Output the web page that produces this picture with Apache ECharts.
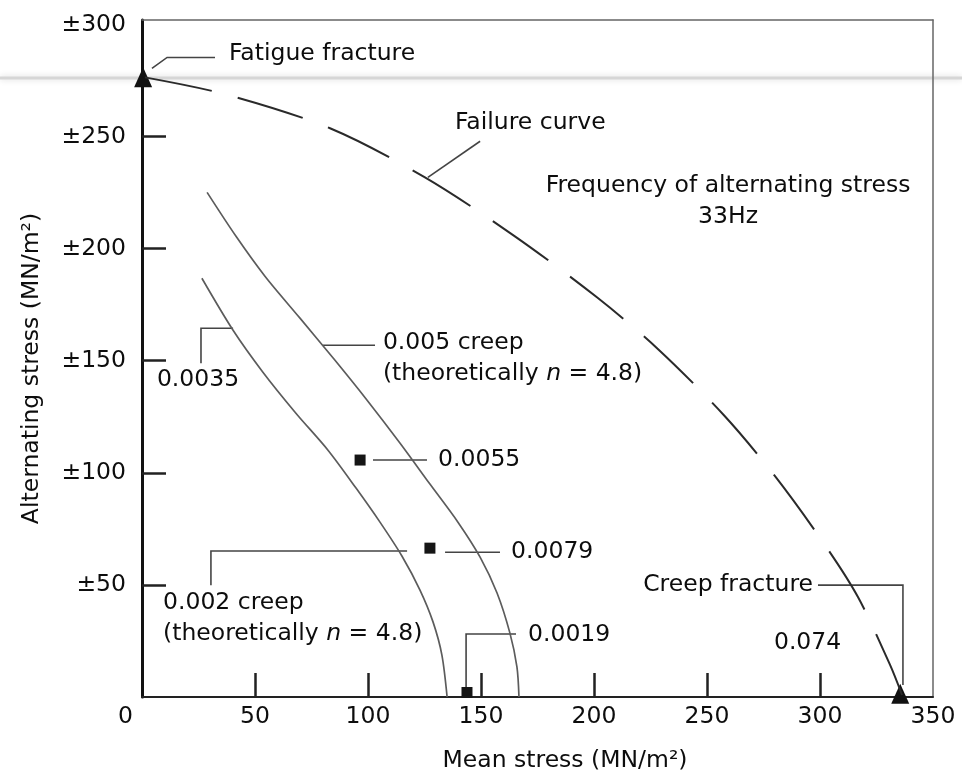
<!DOCTYPE html>
<html>
<head>
<meta charset="utf-8">
<script src="https://cdn.jsdelivr.net/npm/echarts@6/dist/echarts.min.js"></script>
<style>
  html, body { margin: 0; padding: 0; background: #ffffff; }
  #chart { width: 962px; height: 778px; }
</style>
</head>
<body>
<div id="chart"></div>
<script>
// Axis ticks and labels (MN/m^2)
const xTickValues = [50, 100, 150, 200, 250, 300];
const xLabelValues = [0, 50, 100, 150, 200, 250, 300, 350];
const yTickValues = [50, 100, 150, 200, 250];
const yLabelValues = [50, 100, 150, 200, 250, 300];

// Failure curve: [mean stress, alternating stress amplitude]
const failureCurve = [
  [1.3, 276.4], [37.2, 268.8], [83.2, 253.7], [125.2, 231.8], [165.0, 205.5],
  [201.3, 178.3], [227.9, 155.6], [257.5, 125.7], [280.1, 98.5], [302.2, 67.8],
  [316.8, 44.6], [331.0, 14.3], [336.3, 0.9]
];

// 0.005 creep strain contour
const creep0005 = [
  [28.8, 225.1], [41.6, 205.5], [54.4, 187.7], [69.9, 169.0], [85.4, 150.2],
  [99.6, 132.4], [114.2, 113.2], [127.4, 95.0], [139.8, 78.0], [149.6, 62.4],
  [157.1, 46.4], [162.8, 28.5], [165.9, 13.4], [166.8, 0]
];

// 0.002 creep strain contour
const creep0002 = [
  [26.5, 186.8], [40.3, 163.6], [53.5, 144.9], [68.1, 126.6], [82.3, 110.1],
  [94.7, 93.2], [105.3, 78.0], [115.0, 62.9], [123.0, 47.7], [128.8, 33.4],
  [132.7, 18.7], [135.0, 0]
];

// Measured creep strains at individual test points
const measuredPoints = [[96.5, 105.7], [127.4, 66.4], [143.8, 2]];

// Fracture points: pure fatigue and pure creep
const fracturePoints = [[0.5, 276.5], [335.5, 1.5]];

// Leader lines for the annotations, in data units
const leaderLines = [
  [[4.4, 280.4], [11.1, 285.3], [32.3, 285.3]],
  [[126.5, 231.8], [149.6, 247.9]],
  [[80.1, 156.9], [103.1, 156.9]],
  [[26.1, 148.9], [26.1, 164.5], [40.3, 164.5]],
  [[102.2, 105.7], [126.1, 105.7]],
  [[134.1, 64.6], [158.4, 64.6]],
  [[30.5, 49.9], [30.5, 65.1], [117.3, 65.1]],
  [[143.4, 3.1], [143.4, 28.1], [165.5, 28.1]],
  [[299.1, 49.9], [336.7, 49.9], [336.7, 5.3]]
];

// Annotation texts: anchor in data units and horizontal alignment
const annotations = [
  { at: [38.5, 286.7], align: 'left', text: 'Fatigue fracture' },
  { at: [138.5, 256.3], align: 'left', text: 'Failure curve' },
  { at: [259.3, 221.1], align: 'center', text: 'Frequency of alternating stress\n33Hz' },
  { at: [106.6, 151.1], align: 'left', text: '0.005 creep\n(theoretically {i|n} = 4.8)' },
  { at: [6.6, 141.3], align: 'left', text: '0.0035' },
  { at: [131, 105.7], align: 'left', text: '0.0055' },
  { at: [163.3, 64.6], align: 'left', text: '0.0079' },
  { at: [9.3, 35], align: 'left', text: '0.002 creep\n(theoretically {i|n} = 4.8)' },
  { at: [170.8, 27.6], align: 'left', text: '0.0019' },
  { at: [296.9, 49.9], align: 'right', text: 'Creep fracture' },
  { at: [294.5, 24.1], align: 'center', text: '0.074' }
];

const FONT = 'DejaVu Sans';
const FS = 23.5;
const INK = '#0d0d0d';

const chart = echarts.init(document.getElementById('chart'), null, { renderer: 'canvas' });

const option = {
  backgroundColor: '#ffffff',
  animation: false,
  grid: { left: 142, right: 29, top: 20, bottom: 81, containLabel: false },
  graphic: [{
    // faint horizontal streak across the sheet
    type: 'line',
    z: -10,
    shape: { x1: 0, y1: 78, x2: 962, y2: 78 },
    style: { stroke: '#d6d6d6', lineWidth: 3, shadowBlur: 6, shadowColor: '#d6d6d6' },
    silent: true
  }],
  xAxis: [{
    type: 'value', min: 0, max: 350, position: 'bottom',
    name: 'Mean stress (MN/m²)', nameLocation: 'middle', nameGap: 52,
    nameTextStyle: { fontFamily: FONT, fontSize: FS, color: INK, padding: [0, 0, 0, 55] },
    axisLine: { show: true, onZero: false, lineStyle: { color: '#222', width: 2 } },
    axisTick: { show: true, inside: true, length: 24, customValues: xTickValues,
                lineStyle: { color: '#222', width: 2.5 } },
    axisLabel: {
      customValues: xLabelValues, margin: 8,
      fontFamily: FONT, fontSize: FS, color: INK,
      formatter: v => v === 0 ? '{z|0}' : String(v),
      rich: { z: { fontFamily: FONT, fontSize: FS, color: INK, padding: [0, 33, 0, 0] } }
    },
    splitLine: { show: false }
  }, {
    type: 'value', min: 0, max: 350, position: 'top',
    axisLine: { show: true, onZero: false, lineStyle: { color: '#666', width: 1.5 } },
    axisTick: { show: false }, axisLabel: { show: false }, splitLine: { show: false }
  }],
  yAxis: [{
    type: 'value', min: 0, max: 302, position: 'left',
    name: 'Alternating stress (MN/m²)', nameLocation: 'middle', nameRotate: 90, nameGap: 98,
    nameTextStyle: { fontFamily: FONT, fontSize: FS, color: INK, padding: [0, 20, 0, 0] },
    axisLine: { show: true, onZero: false, lineStyle: { color: '#111', width: 3 } },
    axisTick: { show: true, inside: true, length: 24, customValues: yTickValues,
                lineStyle: { color: '#222', width: 2.5 } },
    axisLabel: {
      customValues: yLabelValues, margin: 16,
      fontFamily: FONT, fontSize: FS, color: INK,
      formatter: v => '±' + v
    },
    splitLine: { show: false }
  }, {
    type: 'value', min: 0, max: 302, position: 'right',
    axisLine: { show: true, onZero: false, lineStyle: { color: '#666', width: 1.5 } },
    axisTick: { show: false }, axisLabel: { show: false }, splitLine: { show: false }
  }],
  series: [
    {
      name: 'Failure curve', type: 'line', data: failureCurve,
      showSymbol: false, smooth: 0.3, clip: false,
      lineStyle: { color: '#2a2a2a', width: 2, type: [68, 27] }
    },
    {
      name: '0.005 creep', type: 'line', data: creep0005,
      showSymbol: false, smooth: 0.3,
      lineStyle: { color: '#5c5c5c', width: 1.7 }
    },
    {
      name: '0.002 creep', type: 'line', data: creep0002,
      showSymbol: false, smooth: 0.3,
      lineStyle: { color: '#5c5c5c', width: 1.7 }
    },
    {
      name: 'Leaders', type: 'lines', coordinateSystem: 'cartesian2d', polyline: true,
      silent: true,
      data: leaderLines.map(c => ({ coords: c })),
      lineStyle: { color: '#444', width: 1.6, opacity: 1 }
    },
    {
      name: 'Measured', type: 'scatter', data: measuredPoints, clip: false,
      symbol: 'rect', symbolSize: 11,
      itemStyle: { color: '#151515', opacity: 1 }
    },
    {
      name: 'Fracture', type: 'scatter', data: fracturePoints, clip: false,
      symbol: 'triangle', symbolSize: [18, 20],
      itemStyle: { color: '#111', opacity: 1 }
    },
    {
      name: 'Annotations', type: 'scatter', silent: true, clip: false,
      symbolSize: 0,
      itemStyle: { opacity: 1 },
      data: annotations.map(a => ({
        value: a.at,
        label: {
          show: true, position: 'inside', align: a.align, verticalAlign: 'middle',
          formatter: a.text
        }
      })),
      label: {
        fontFamily: FONT, fontSize: FS, color: INK, lineHeight: 31,
        rich: { i: { fontFamily: FONT, fontSize: FS, fontStyle: 'italic', color: INK, lineHeight: 31 } }
      }
    }
  ]
};

chart.setOption(option);
</script>
</body>
</html>
